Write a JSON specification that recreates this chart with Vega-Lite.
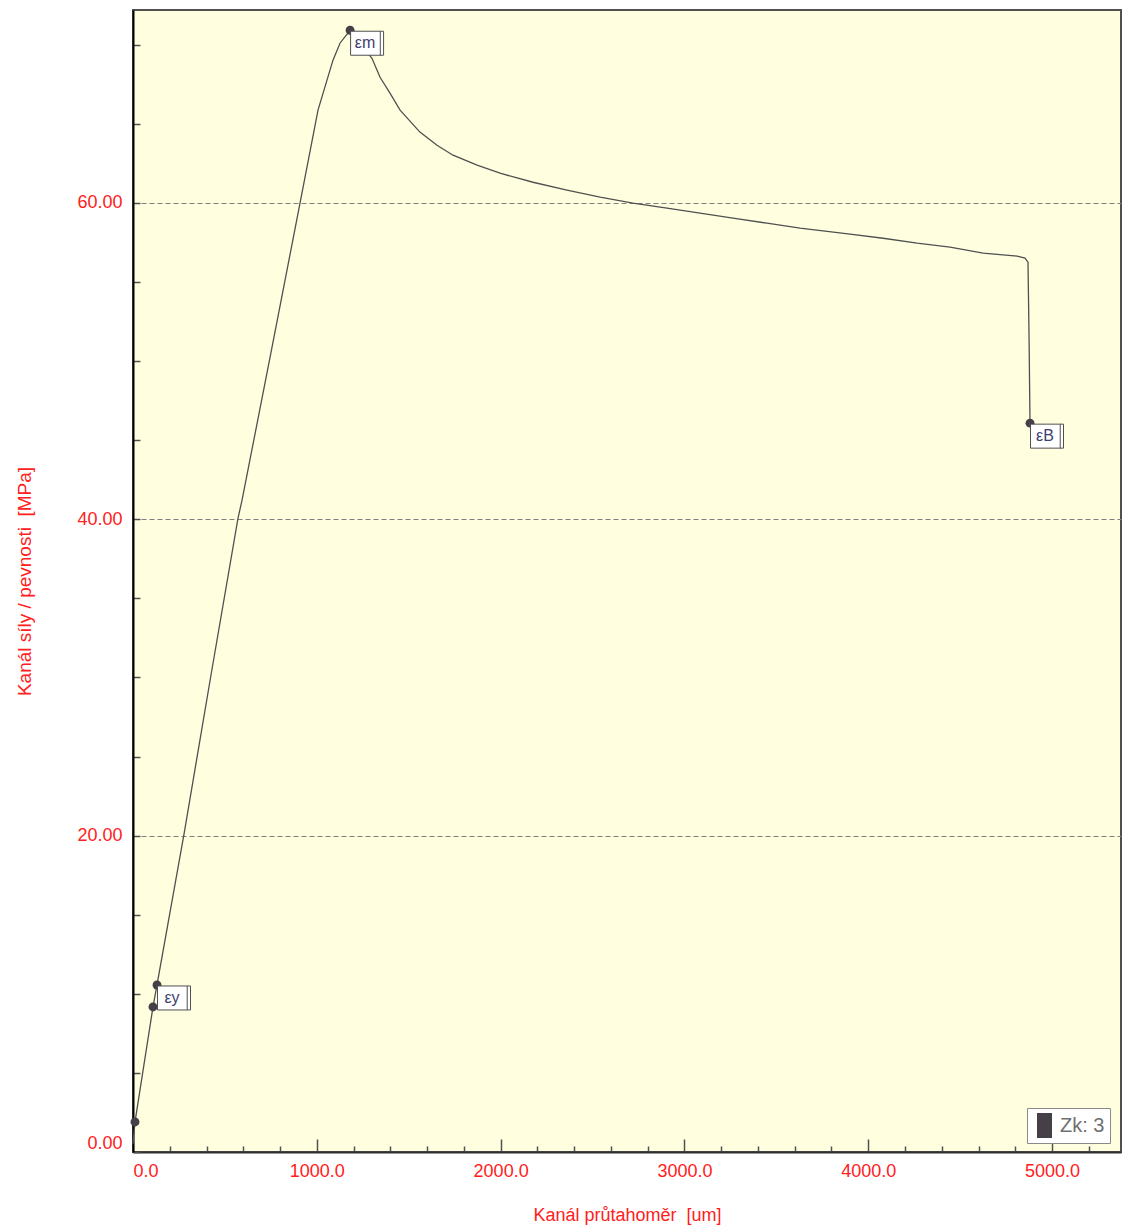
{
  "$schema": "https://vega.github.io/schema/vega-lite/v6.json",
  "width": 988,
  "height": 1142,
  "autosize": {"type": "none"},
  "padding": {"left": 133, "top": 10, "right": 1, "bottom": 80},
  "background": "#ffffff",
  "config": {
    "view": {"fill": "#ffffe0", "stroke": "#505050", "strokeWidth": 2},
    "font": "Liberation Sans, Arial"
  },
  "datasets": {
    "curve": [
      {"x": 0, "y": 0.5},
      {"x": 10.9, "y": 1.9},
      {"x": 108.8, "y": 9.17},
      {"x": 130.6, "y": 10.56},
      {"x": 277.5, "y": 20.1},
      {"x": 422, "y": 30.0},
      {"x": 571.3, "y": 40.08},
      {"x": 593, "y": 41.2},
      {"x": 750, "y": 50.5},
      {"x": 908.6, "y": 59.99},
      {"x": 1006.5, "y": 65.87},
      {"x": 1088, "y": 69.03},
      {"x": 1126, "y": 70.1},
      {"x": 1181, "y": 70.92},
      {"x": 1300, "y": 69.15},
      {"x": 1344, "y": 67.95},
      {"x": 1398, "y": 66.94},
      {"x": 1453, "y": 65.87},
      {"x": 1561, "y": 64.48},
      {"x": 1654, "y": 63.65},
      {"x": 1741, "y": 63.02},
      {"x": 1872, "y": 62.39},
      {"x": 1997, "y": 61.88},
      {"x": 2176, "y": 61.31},
      {"x": 2361, "y": 60.81},
      {"x": 2541, "y": 60.37},
      {"x": 2720, "y": 59.99},
      {"x": 2905, "y": 59.67},
      {"x": 3085, "y": 59.36},
      {"x": 3264, "y": 59.04},
      {"x": 3449, "y": 58.72},
      {"x": 3629, "y": 58.41},
      {"x": 3901, "y": 58.03},
      {"x": 4081, "y": 57.77},
      {"x": 4266, "y": 57.46},
      {"x": 4445, "y": 57.21},
      {"x": 4625, "y": 56.83},
      {"x": 4810, "y": 56.64},
      {"x": 4853, "y": 56.51},
      {"x": 4869, "y": 56.26},
      {"x": 4875, "y": 51.33},
      {"x": 4880, "y": 46.08}
    ],
    "markers": [
      {"x": 10.9, "y": 1.9, "series": "Zk: 3"},
      {"x": 108.8, "y": 9.17, "series": "Zk: 3"},
      {"x": 130.6, "y": 10.56, "series": "Zk: 3"},
      {"x": 1181, "y": 70.92, "series": "Zk: 3"},
      {"x": 4880, "y": 46.08, "series": "Zk: 3"}
    ],
    "labels": [
      {"x": 130.6, "y": 10.56, "label": "εy"},
      {"x": 1181, "y": 70.92, "label": "εm"},
      {"x": 4880, "y": 46.08, "label": "εB"}
    ]
  },
  "encoding": {
    "x": {
      "field": "x",
      "type": "quantitative",
      "scale": {"domain": [0, 5375], "nice": false, "zero": false},
      "axis": {
        "title": "Kanál průtahoměr \u00a0[um]",
        "values": [0, 200, 400, 600, 800, 1000, 1200, 1400, 1600, 1800, 2000, 2200, 2400, 2600, 2800, 3000, 3200, 3400, 3600, 3800, 4000, 4200, 4400, 4600, 4800, 5000, 5200],
        "labelExpr": "datum.value % 1000 === 0 ? format(datum.value, '.1f') : ''",
        "labelFlush": true,
        "labelColor": "#ff2020",
        "labelFontSize": 18,
        "labelPadding": 23,
        "tickSize": {"condition": {"test": "datum.value % 1000 === 0", "value": -13}, "value": -6},
        "tickColor": "#505050",
        "tickWidth": 1.5,
        "domainColor": "#303030",
        "domainWidth": 2,
        "grid": false,
        "titleColor": "#ff2020",
        "titleFontSize": 18,
        "titleFontWeight": "normal",
        "titlePadding": 26
      }
    },
    "y": {
      "field": "y",
      "type": "quantitative",
      "scale": {"domain": [0, 72.2], "nice": false, "zero": false},
      "axis": {
        "title": "Kanál síly / pevnosti \u00a0[MPa]",
        "values": [0, 5, 10, 15, 20, 25, 30, 35, 40, 45, 50, 55, 60, 65, 70],
        "labelExpr": "datum.value % 20 === 0 ? format(datum.value, '.2f') : ''",
        "labelFlush": true,
        "labelColor": "#ff2020",
        "labelFontSize": 18,
        "labelPadding": 18,
        "tickSize": -7,
        "tickColor": "#505050",
        "tickWidth": 1.5,
        "domainColor": "#000000",
        "domainWidth": 2,
        "grid": true,
        "gridColor": "#808080",
        "gridDash": [5, 3],
        "gridOpacity": {"condition": {"test": "datum.value % 20 === 0 && datum.value > 0", "value": 1}, "value": 0},
        "titleColor": "#ff2020",
        "titleFontSize": 19,
        "titleFontWeight": "normal",
        "titlePadding": 42
      }
    }
  },
  "layer": [
    {
      "data": {"name": "curve"},
      "mark": {"type": "line", "color": "#505050", "strokeWidth": 1.3}
    },
    {
      "data": {"name": "markers"},
      "mark": {"type": "point", "filled": true, "shape": "circle", "size": 80, "opacity": 1},
      "encoding": {
        "color": {
          "field": "series",
          "type": "nominal",
          "scale": {"range": ["#453f47"]},
          "legend": {
            "title": null,
            "orient": "none",
            "legendX": 894,
            "legendY": 1098,
            "fillColor": "#ffffff",
            "strokeColor": "#8a8a8a",
            "padding": 5,
            "symbolType": "M-0.6,-1H0.6V1H-0.6Z",
            "symbolSize": 625,
            "symbolStrokeWidth": 0,
            "labelFontSize": 20,
            "labelColor": "#707070",
            "labelOffset": 3
          }
        }
      }
    },
    {
      "data": {"name": "labels"},
      "mark": {
        "type": "point",
        "shape": "M-1.375,-1H1.375V1H-1.375Z M1.1,-1V1",
        "size": 576,
        "filled": true,
        "fill": "#ffffff",
        "stroke": "#505050",
        "strokeWidth": 1,
        "opacity": 1,
        "xOffset": 17,
        "yOffset": 13
      }
    },
    {
      "data": {"name": "labels"},
      "mark": {
        "type": "text",
        "xOffset": 15,
        "yOffset": 13,
        "fontSize": 16,
        "color": "#404070",
        "align": "center",
        "baseline": "middle"
      },
      "encoding": {
        "text": {"field": "label"}
      }
    }
  ]
}
